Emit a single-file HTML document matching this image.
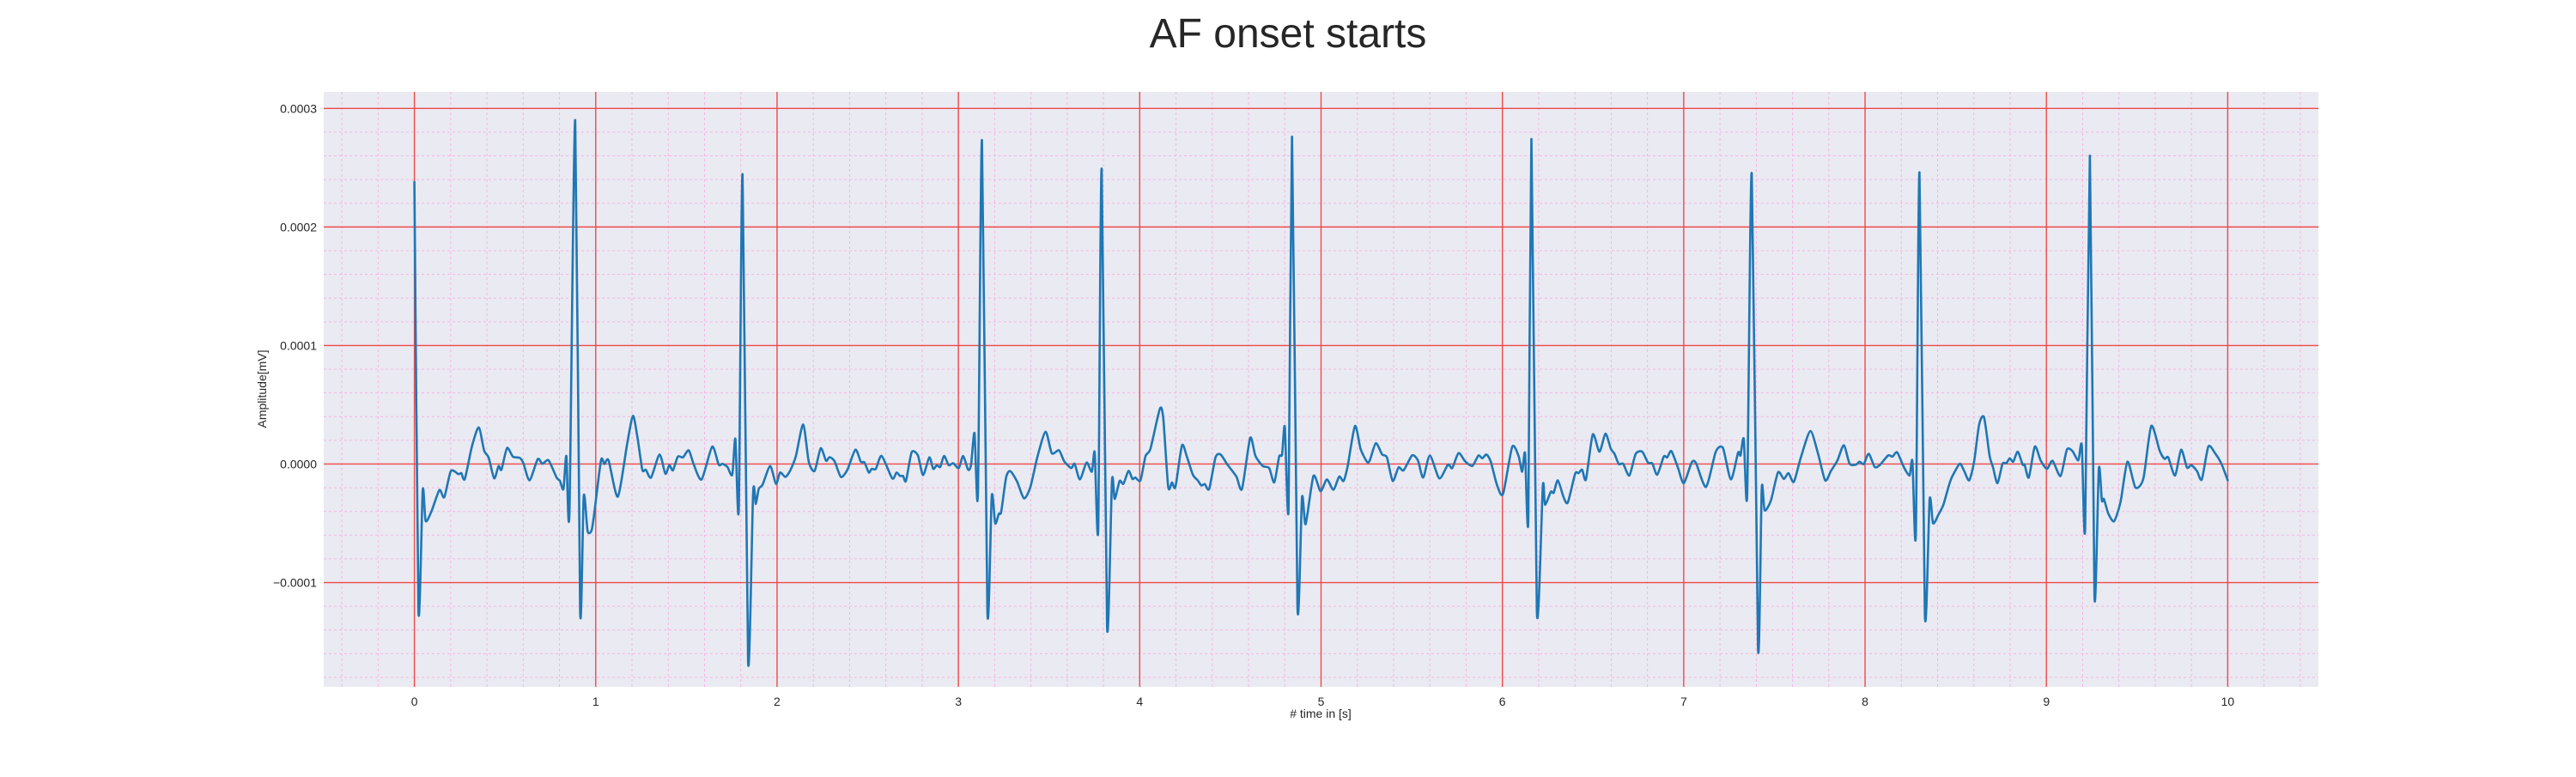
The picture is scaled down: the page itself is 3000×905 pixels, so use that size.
<!DOCTYPE html>
<html>
<head>
<meta charset="utf-8">
<style>
  html,body{margin:0;padding:0;background:#fff;}
  body{width:3000px;height:900px;overflow:hidden;font-family:"Liberation Sans",sans-serif;}
  svg text{font-family:"Liberation Sans",sans-serif;fill:#262626;}
</style>
</head>
<body>
<svg id="chart" width="3000" height="900" xmlns="http://www.w3.org/2000/svg">
  <text x="1500" y="55" text-anchor="middle" font-size="48">AF onset starts</text>
  <rect x="377" y="107" width="2323" height="693" fill="#eaeaf2"/>
  <g id="grid-minor"></g>
  <g id="grid-major"></g>
  <g id="series"></g>
  <g id="xticks"></g>
  <g id="yticks"></g>
  <text x="1538" y="836" text-anchor="middle" font-size="14"># time in [s]</text>
  <text x="0" y="0" transform="translate(310,453) rotate(-90)" text-anchor="middle" font-size="14">Amplitude[mV]</text>
</svg>
<script>
// time in seconds
const timesS = [0,0.0224,0.046,0.062,0.094,0.138,0.165,0.201,0.243,0.259,0.278,0.318,0.355,0.385,0.409,0.440,0.464,0.480,0.511,0.543,0.582,0.601,0.635,0.680,0.706,0.740,0.784,0.803,0.822,0.838,0.855,
0.887,0.914,0.934,0.955,0.977,0.992,1.029,1.048,1.071,1.122,1.174,1.205,1.229,1.257,1.276,1.305,1.352,1.384,1.406,1.426,1.453,1.481,1.513,1.541,1.584,1.642,1.678,1.699,1.726,1.753,1.770,1.789,
1.810,1.840,1.868,1.883,1.899,1.920,1.962,1.994,2.017,2.046,2.073,2.104,2.144,2.175,2.207,2.241,2.270,2.289,2.317,2.352,2.388,2.432,2.462,2.482,2.506,2.522,2.545,2.577,2.635,2.659,2.679,2.695,2.711,2.742,2.777,2.805,2.840,2.861,2.881,2.900,2.921,2.947,2.971,3.002,3.026,3.054,3.070,3.089,3.108,
3.130,3.160,3.184,3.203,3.223,3.236,3.263,3.286,3.323,3.362,3.397,3.437,3.481,3.515,3.555,3.583,3.622,3.641,3.670,3.707,3.736,3.752,3.771,
3.790,3.820,3.847,3.862,3.889,3.910,3.938,3.960,3.976,4.004,4.032,4.059,4.111,4.130,4.157,4.178,4.197,4.233,4.260,4.293,4.320,4.340,4.359,4.383,4.418,4.446,4.486,4.533,4.564,4.609,4.638,4.679,4.714,4.742,4.769,4.785,4.800,4.821,
4.840,4.870,4.895,4.915,4.958,4.997,5.032,5.068,5.100,5.124,5.147,5.187,5.218,5.253,5.269,5.302,5.337,5.363,5.395,5.427,5.455,5.502,5.534,5.563,5.600,5.652,5.700,5.723,5.758,5.794,5.834,5.868,5.889,5.912,5.936,5.972,6.004,6.054,6.089,6.109,6.125,6.143,
6.160,6.190,6.223,6.235,6.267,6.283,6.306,6.338,6.361,6.401,6.420,6.440,6.461,6.498,6.535,6.569,6.598,6.618,6.642,6.666,6.700,6.735,6.771,6.803,6.827,6.854,6.890,6.909,6.932,6.969,7.000,7.044,7.068,7.123,7.177,7.216,7.260,7.300,7.313,7.331,7.350,
7.375,7.410,7.430,7.446,7.481,7.520,7.552,7.578,7.607,7.646,7.698,7.741,7.780,7.812,7.848,7.883,7.915,7.949,7.970,7.993,8.020,8.053,8.080,8.127,8.151,8.177,8.211,8.245,8.261,8.280,
8.300,8.330,8.356,8.375,8.404,8.432,8.466,8.482,8.522,8.545,8.574,8.601,8.629,8.656,8.687,8.706,8.730,8.758,8.779,8.798,8.817,8.842,8.869,8.880,8.903,8.936,8.968,9.003,9.034,9.078,9.113,9.144,9.176,9.195,9.214,
9.240,9.265,9.289,9.306,9.317,9.341,9.373,9.409,9.447,9.491,9.535,9.578,9.625,9.652,9.672,9.709,9.743,9.775,9.799,9.830,9.857,9.893,9.930,9.964,10.0];
// amplitude in units of 1e-5 mV
const amplitudeE5 = [23.8,-12.3,-2.2,-4.8,-4.0,-2.2,-2.8,-0.6,-0.85,-0.77,-1.26,1.52,3.09,1.11,0.56,-1.21,-0.17,-0.48,1.35,0.63,0.51,0.07,-1.38,0.41,0.02,0.31,-1.14,-1.43,-2.1,0.68,-4.03,
29.0,-12.3,-2.7,-5.65,-5.6,-4.15,0.31,0,0.31,-2.75,1.76,4.06,2.37,-0.48,-0.48,-1.14,0.8,-0.82,-0.1,-0.53,0.63,0.56,1.16,-0.05,-1.3,1.47,-0.05,0.02,-0.24,-0.9,2.13,-3.72,
24.4,-16.6,-2.4,-3.36,-2.1,-1.74,-0.17,-1.67,-0.72,-1.09,-0.53,0.68,3.33,0.19,-0.58,1.33,0.27,0.58,0.24,-1.09,-0.48,1.21,0.19,0.14,-0.72,-0.41,-0.41,0.68,-1.21,-0.72,-1.01,-1.01,-1.43,0.99,0.72,-0.94,0.56,-0.41,-0.1,-0.24,0.68,-0.1,0.07,-0.34,0.68,-0.48,-0.05,2.61,-2.46,
27.3,-12.4,-2.7,-5.0,-4.2,-4.03,-1.14,-0.6,-1.45,-2.9,-1.93,0.68,2.73,0.92,1.16,0.24,-0.34,0.02,-1.3,0.12,-0.65,0.97,-5.41,
24.9,-13.7,-1.43,-2.95,-1.43,-1.67,-0.58,-1.26,-1.14,-1.38,0.68,1.28,4.66,3.82,-1.93,-1.55,-1.93,1.57,0.63,-0.9,-1.38,-1.81,-1.69,-2.1,0.56,0.8,-0.1,-1.06,-2.1,2.2,0.68,-0.17,-0.34,-1.55,0.63,0.8,3.14,-3.67,
27.6,-12.0,-2.83,-5.07,-1.01,-2.29,-1.3,-2.17,-1.06,-1.43,-0.17,3.21,1.28,0.19,0.31,1.76,0.8,0.56,-1.43,-0.29,-0.53,0.72,0.31,-1.14,0.72,-1.21,-0.05,-0.34,0.92,0.24,-0.17,0.72,0.48,0.8,0.19,-1.86,-2.51,1.45,0.68,-0.65,0.92,-4.59,
27.4,-12.4,-1.86,-3.43,-2.34,-2.42,-1.38,-2.83,-3.24,-0.82,-0.77,-0.48,-1.3,2.49,1.04,2.56,1.28,0.87,0,0.02,-0.97,0.85,1.04,0.12,0.05,-0.9,0.63,0.56,1.09,-0.34,-1.62,0.14,0.07,-1.93,1.04,1.35,-1.3,0.97,0.72,2.13,-2.51,
24.5,-15.5,-2.1,-3.91,-3.07,-0.7,-1.26,-0.77,-1.5,0.56,2.78,0.87,-1.38,-0.58,0.31,1.59,0.02,-0.05,0.19,0,0.87,-0.24,-0.1,0.72,0.63,0.99,-0.17,-0.97,0.24,-5.85,
24.6,-12.7,-3.0,-5.0,-4.28,-3.43,-1.62,-1.01,0.02,-0.53,-1.38,0.19,3.33,3.94,0.68,-0.29,-1.62,0.02,0.07,0.48,0.19,1.04,-0.05,-0.05,-1.14,1.47,0.31,-0.41,0.27,-1.01,1.21,1.09,0.31,1.59,-5.31,
26.0,-11.1,-0.41,-3.07,-2.95,-4.15,-4.83,-3.19,0.19,-1.98,-1.21,3.21,1.11,0.43,0.56,-0.97,1.21,-0.29,-0.1,-0.58,-1.3,1.47,0.92,0.07,-1.38];
const xTickLabels = ["0","1","2","3","4","5","6","7","8","9","10"];
const yTickValues = [-0.0001,0.0000,0.0001,0.0002,0.0003];
const yTickLabels = ["\u22120.0001","0.0000","0.0001","0.0002","0.0003"];

const PL=377, PR=2700, PT=107, PB=800;
const XMIN=-0.5, XMAX=10.5, YMIN=-0.000188, YMAX=0.000314;
function xs(t){return PL+(t-XMIN)/(XMAX-XMIN)*(PR-PL);}
function ys(v){return PB-(v-YMIN)/(YMAX-YMIN)*(PB-PT);}
const NS="http://www.w3.org/2000/svg";
function mk(tag,attrs,parent){const e=document.createElementNS(NS,tag);for(const k in attrs)e.setAttribute(k,attrs[k]);parent.appendChild(e);return e;}

const gMin=document.getElementById('grid-minor');
for(let i=-2;i<=52;i++){const t=i*0.2; if(t<XMIN||t>XMAX||i%5===0)continue;
  const l=mk('line',{x1:xs(t),x2:xs(t),y1:PT,y2:PB,stroke:'#f5b4e2','stroke-width':1,'stroke-dasharray':'3,3'},gMin);
  
  }
for(let i=-9;i<=16;i++){const v=i*0.2e-4; if(v<YMIN||v>YMAX||i%5===0)continue;
  const l=mk('line',{x1:PL,x2:PR,y1:ys(v),y2:ys(v),stroke:'#f5b4e2','stroke-width':1,'stroke-dasharray':'3,3'},gMin);
  
  }

const gMaj=document.getElementById('grid-major');
const gX=document.getElementById('xticks');
xTickLabels.forEach((lab)=>{const t=parseFloat(lab);
  const l=mk('line',{x1:xs(t),x2:xs(t),y1:PT,y2:PB,stroke:'#ee4a4a','stroke-width':1.4},gMaj);
  
  
  const tx=mk('text',{x:xs(t),y:PB+22,'text-anchor':'middle','font-size':14},gX);
  tx.textContent=lab;
  
  });
const gY=document.getElementById('yticks');
yTickValues.forEach((v,i)=>{
  const l=mk('line',{x1:PL,x2:PR,y1:ys(v),y2:ys(v),stroke:'#ee4a4a','stroke-width':1.4},gMaj);
  
  
  const tx=mk('text',{x:PL-8,y:ys(v)+5,'text-anchor':'end','font-size':14},gY);
  tx.textContent=yTickLabels[i];
  
  });

const gS=document.getElementById('series');
const P=timesS.map((t,i)=>[xs(t),ys(amplitudeE5[i]*1e-5)]);
let d='M'+P[0][0].toFixed(1)+','+P[0][1].toFixed(1);
for(let i=0;i<P.length-1;i++){
  const p0=P[Math.max(0,i-1)],p1=P[i],p2=P[i+1],p3=P[Math.min(P.length-1,i+2)];
  const k=0.12;
  const c1x=p1[0]+(p2[0]-p0[0])*k, c1y=p1[1]+(p2[1]-p0[1])*k;
  const c2x=p2[0]-(p3[0]-p1[0])*k, c2y=p2[1]-(p3[1]-p1[1])*k;
  d+=' C'+c1x.toFixed(1)+','+c1y.toFixed(1)+' '+c2x.toFixed(1)+','+c2y.toFixed(1)+' '+p2[0].toFixed(1)+','+p2[1].toFixed(1);
}
const pl=mk('path',{d:d,fill:'none',stroke:'#1f77b4','stroke-width':2.6,'stroke-linejoin':'round','stroke-linecap':'round'},gS);


</script>
</body>
</html>
